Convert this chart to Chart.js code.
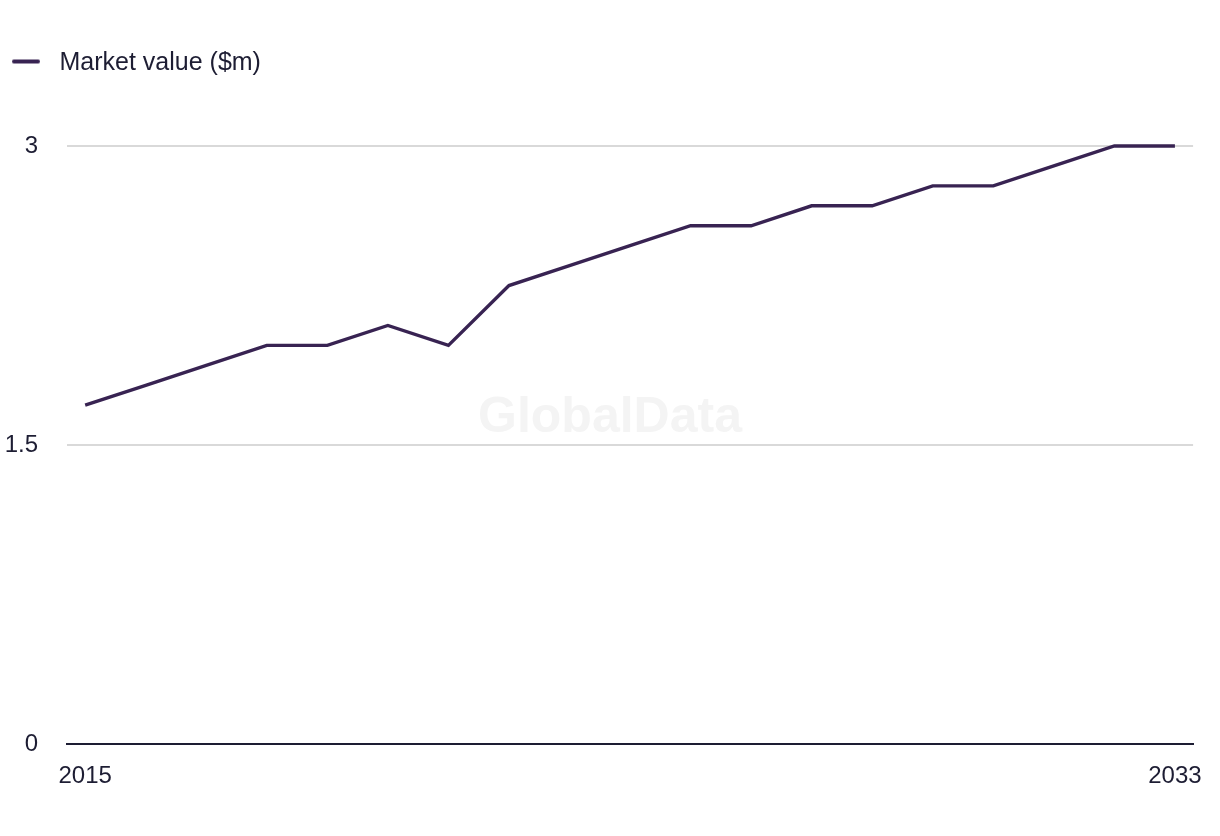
<!DOCTYPE html>
<html>
<head>
<meta charset="utf-8">
<script src="https://cdn.jsdelivr.net/npm/chart.js@4"></script>
<style>
  html, body { margin: 0; padding: 0; background: #ffffff; }
  #wrap { width: 1220px; height: 836px; }
</style>
</head>
<body>
<div id="wrap"><canvas id="chart-goes-here"></canvas></div>
<script>
// data
const years = [2015, 2016, 2017, 2018, 2019, 2020, 2021, 2022, 2023, 2024,
               2025, 2026, 2027, 2028, 2029, 2030, 2031, 2032, 2033];
const marketValue = [1.7, 1.8, 1.9, 2.0, 2.0, 2.1, 2.0, 2.3, 2.4, 2.5,
                     2.6, 2.6, 2.7, 2.7, 2.8, 2.8, 2.9, 3.0, 3.0];
const xTickLabels = [2015, 2033];
const yTickValues = [0, 1.5, 3];
const seriesLabel = 'Market value ($m)';

const textColor = '#1d1d33';
const lineColor = '#382352';
const fontFamily = "'Liberation Sans', Arial, sans-serif";

// legend swatch: short thick line, a little above centre, blank room after it
const swatch = document.createElement('canvas');
swatch.width = 35;
swatch.height = 10;
(function () {
    const c = swatch.getContext('2d');
    c.strokeStyle = lineColor;
    c.lineWidth = 4;
    c.lineCap = 'round';
    c.beginPath();
    c.moveTo(2, 3);
    c.lineTo(26, 3);
    c.stroke();
})();

// faint watermark behind the line
const watermark = {
    id: 'watermark',
    beforeDatasetsDraw(chart) {
        const ctx = chart.ctx;
        ctx.save();
        ctx.font = 'bold 50px ' + fontFamily;
        ctx.fillStyle = '#f4f4f4';
        ctx.textAlign = 'center';
        ctx.textBaseline = 'middle';
        ctx.fillText('GlobalData', 610, 418);
        ctx.restore();
    }
};

// a bit more room under the legend
const legendGap = {
    id: 'legendGap',
    beforeInit(chart) {
        const origFit = chart.legend.fit;
        chart.legend.fit = function () {
            origFit.bind(chart.legend)();
            this.height += 60;
        };
    }
};

const config = {
    type: 'line',
    data: {
        datasets: [{
            label: seriesLabel,
            data: years.map((y, i) => ({ x: y, y: marketValue[i] })),
            borderColor: lineColor,
            backgroundColor: lineColor,
            borderWidth: 3.4,
            pointRadius: 0,
            tension: 0,
            clip: false
        }]
    },
    options: {
        responsive: true,
        maintainAspectRatio: false,
        animation: false,
        layout: { padding: { left: 2, right: 24, top: 41, bottom: 27 } },
        plugins: {
            legend: {
                position: 'top',
                align: 'start',
                labels: {
                    usePointStyle: true,
                    pointStyle: swatch,
                    pointStyleWidth: 35,
                    padding: 10,
                    color: textColor,
                    font: { family: fontFamily, size: 25 }
                }
            },
            tooltip: { enabled: false }
        },
        scales: {
            x: {
                type: 'linear',
                min: 2014.7,
                max: 2033.3,
                afterBuildTicks(scale) {
                    scale.ticks = xTickLabels.map(v => ({ value: v }));
                },
                grid: { display: false, drawTicks: false },
                border: { display: true, color: '#1d1d33', width: 2 },
                ticks: {
                    padding: 18,
                    maxRotation: 0,
                    color: textColor,
                    font: { family: fontFamily, size: 24 },
                    callback: v => String(v)
                }
            },
            y: {
                min: 0,
                max: 3,
                afterBuildTicks(scale) {
                    scale.ticks = yTickValues.map(v => ({ value: v }));
                },
                afterFit(scale) { scale.width = 65; },
                grid: { color: '#d9d9d9', lineWidth: 2, drawTicks: false },
                border: { display: false },
                ticks: {
                    padding: 29,
                    color: textColor,
                    font: { family: fontFamily, size: 24 },
                    callback: v => String(v)
                }
            }
        }
    },
    plugins: [watermark, legendGap]
};

new Chart(document.getElementById('chart-goes-here'), config);
</script>
</body>
</html>
